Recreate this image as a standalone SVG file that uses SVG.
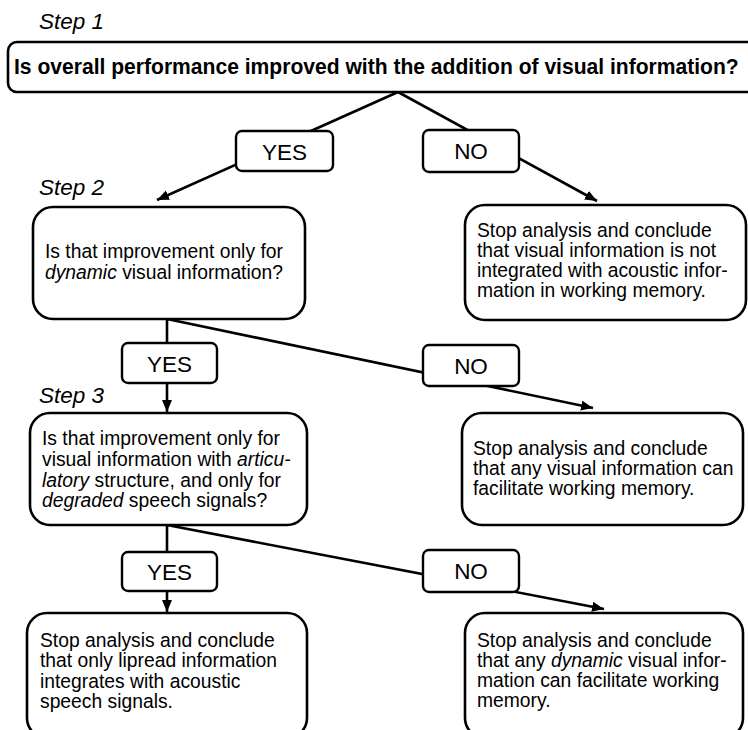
<svg xmlns="http://www.w3.org/2000/svg" width="748" height="730" viewBox="0 0 748 730">
<style>
  .box { fill: #ffffff; stroke: #000000; stroke-width: 2.6; }
  .lbl { fill: #ffffff; stroke: #000000; stroke-width: 2.4; }
  .con { fill: none; stroke: #000000; stroke-width: 2.6; marker-end: url(#arr); }
  text { font-family: "Liberation Sans", Arial, sans-serif; fill: #000000; }
  .body { font-size: 19.3px; }
  .yn { font-size: 22.5px; text-anchor: middle; }
  .step { font-size: 22.5px; font-style: italic; }
  .title { font-size: 22.5px; font-weight: bold; }
  .it { font-style: italic; }
</style>
<defs>
  <marker id="arr" markerUnits="userSpaceOnUse" markerWidth="14" markerHeight="12" refX="12" refY="5" orient="auto">
    <path d="M0,0 L12,5 L0,10 Z" fill="#000000"/>
  </marker>
</defs>
<rect width="748" height="730" fill="#ffffff"/>

<g id="connectors">
  <line class="con" x1="398" y1="92" x2="157" y2="200"/>
  <line class="con" x1="398" y1="92" x2="597" y2="201"/>
  <line class="con" x1="167" y1="319" x2="167" y2="412"/>
  <line class="con" x1="167" y1="319" x2="593" y2="408"/>
  <line class="con" x1="167" y1="525" x2="167" y2="612"/>
  <line class="con" x1="167" y1="525" x2="604" y2="609"/>
</g>

<g id="step-labels">
  <text class="step" x="39" y="29">Step 1</text>
  <text class="step" x="39" y="195">Step 2</text>
  <text class="step" x="39" y="403">Step 3</text>
</g>

<g id="q1">
  <rect class="box" x="8" y="42" width="760" height="50" rx="9"/>
  <text class="title" transform="scale(0.94,1)" x="14.9" y="74.5" textLength="771" lengthAdjust="spacingAndGlyphs">Is overall performance improved with the addition of visual information?</text>
</g>

<g id="yes1">
  <rect class="lbl" x="236" y="131" width="97" height="40" rx="6"/>
  <text class="yn" x="284.5" y="159.5">YES</text>
</g>
<g id="no1">
  <rect class="lbl" x="423" y="130" width="96" height="42" rx="6"/>
  <text class="yn" x="471" y="159">NO</text>
</g>

<g id="q2">
  <rect class="box" x="33" y="207" width="272" height="112" rx="20"/>
  <text class="body" x="45" y="258">Is that improvement only for</text>
  <text class="body" x="45" y="279"><tspan class="it">dynamic</tspan> visual information?</text>
</g>

<g id="stop1">
  <rect class="box" x="465" y="205" width="281" height="115" rx="20"/>
  <text class="body" x="477" y="237">Stop analysis and conclude</text>
  <text class="body" x="477" y="257">that visual information is not</text>
  <text class="body" x="477" y="277">integrated with acoustic infor-</text>
  <text class="body" x="477" y="297">mation in working memory.</text>
</g>

<g id="yes2">
  <rect class="lbl" x="122" y="343" width="95" height="40" rx="6"/>
  <text class="yn" x="169.5" y="372">YES</text>
</g>
<g id="no2">
  <rect class="lbl" x="423" y="345" width="96" height="41" rx="6"/>
  <text class="yn" x="471" y="373.5">NO</text>
</g>

<g id="q3">
  <rect class="box" x="30" y="413" width="277" height="112" rx="20"/>
  <text class="body" x="42" y="445">Is that improvement only for</text>
  <text class="body" x="42" y="466">visual information with <tspan class="it">articu-</tspan></text>
  <text class="body" x="42" y="487"><tspan class="it">latory</tspan> structure, and only for</text>
  <text class="body" x="42" y="507"><tspan class="it">degraded</tspan> speech signals?</text>
</g>

<g id="stop2">
  <rect class="box" x="462" y="413" width="281" height="112" rx="20"/>
  <text class="body" x="473" y="455">Stop analysis and conclude</text>
  <text class="body" x="473" y="475">that any visual information can</text>
  <text class="body" x="473" y="495">facilitate working memory.</text>
</g>

<g id="yes3">
  <rect class="lbl" x="122" y="552" width="95" height="39" rx="6"/>
  <text class="yn" x="169.5" y="580">YES</text>
</g>
<g id="no3">
  <rect class="lbl" x="423" y="550" width="96" height="42" rx="6"/>
  <text class="yn" x="471" y="579">NO</text>
</g>

<g id="stop3">
  <rect class="box" x="27" y="613" width="280" height="125" rx="20"/>
  <text class="body" x="40" y="647">Stop analysis and conclude</text>
  <text class="body" x="40" y="667">that only lipread information</text>
  <text class="body" x="40" y="688">integrates with acoustic</text>
  <text class="body" x="40" y="708">speech signals.</text>
</g>

<g id="stop4">
  <rect class="box" x="465" y="613" width="278" height="125" rx="20"/>
  <text class="body" x="477" y="647">Stop analysis and conclude</text>
  <text class="body" x="477" y="667">that any <tspan class="it">dynamic</tspan> visual infor-</text>
  <text class="body" x="477" y="687">mation can facilitate working</text>
  <text class="body" x="477" y="707">memory.</text>
</g>
</svg>
